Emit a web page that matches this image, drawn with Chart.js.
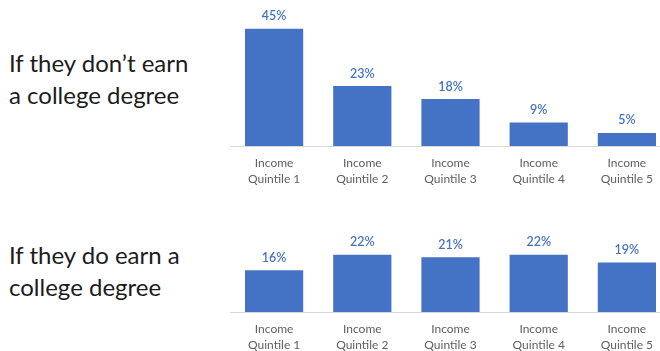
<!DOCTYPE html>
<html>
<head>
<meta charset="utf-8">
<script src="https://cdn.jsdelivr.net/npm/chart.js@4.4.1/dist/chart.umd.min.js"></script>
<style>
  html, body { margin:0; padding:0; width:660px; height:351px; overflow:hidden; background:#fff; }
  .lbl { position:absolute; left:9px; font-family:Lato, "Open Sans", sans-serif; font-size:24px; line-height:32px; color:#1c1c1c; white-space:nowrap; }
  .wrap { position:absolute; left:230px; width:441px; }
</style>
</head>
<body>
<div class="lbl" style="top:47px">If they don’t earn<br>a college degree</div>
<div class="lbl" style="top:239px">If they do earn a<br>college degree</div>
<div class="wrap" style="top:0px;height:190px"><canvas id="c1"></canvas></div>
<div class="wrap" style="top:230px;height:126px"><canvas id="c2"></canvas></div>
<script>
const categories = [['Income','Quintile 1'],['Income','Quintile 2'],['Income','Quintile 3'],['Income','Quintile 4'],['Income','Quintile 5']];
const noDegree = [45, 23, 18, 9, 5];
const withDegree = [16, 22, 21, 22, 19];

const BLUE = '#4472C4';

const valueLabels = {
  id: 'valueLabels',
  afterDatasetsDraw(chart) {
    const ctx = chart.ctx;
    const meta = chart.getDatasetMeta(0);
    const data = chart.data.datasets[0].data;
    ctx.save();
    ctx.fillStyle = BLUE;
    ctx.font = '600 12.5px Lato, sans-serif';
    ctx.textAlign = 'center';
    ctx.textBaseline = 'middle';
    meta.data.forEach((bar, i) => {
      ctx.fillText(data[i] + '%', bar.x, bar.y - 12.5);
    });
    ctx.restore();
  }
};

function makeChart(id, values, yMax) {
  return new Chart(document.getElementById(id), {
    type: 'bar',
    data: {
      labels: categories,
      datasets: [{ data: values, backgroundColor: BLUE, barPercentage: 0.66, categoryPercentage: 1.0 }]
    },
    options: {
      responsive: true,
      maintainAspectRatio: false,
      animation: false,
      events: [],
      layout: { padding: 0 },
      plugins: { legend: { display: false }, tooltip: { enabled: false } },
      scales: {
        x: {
          grid: { display: false },
          border: { display: true, color: '#d9d9d9', width: 1 },
          ticks: { color: '#5f5f5f', font: { family: 'Lato, sans-serif', size: 12, lineHeight: 1.35 }, padding: 1, maxRotation: 0, autoSkip: false },
          afterFit(scale) { scale.height = 44; }
        },
        y: { display: false, min: 0, max: yMax }
      }
    },
    plugins: [valueLabels]
  });
}

makeChart('c1', noDegree, 56);
makeChart('c2', withDegree, 31.5);
</script>
</body>
</html>
